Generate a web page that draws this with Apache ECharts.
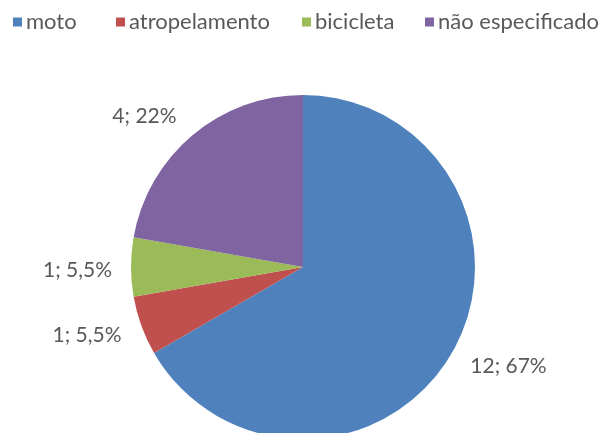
<!DOCTYPE html>
<html>
<head>
<meta charset="utf-8">
<script src="https://cdn.jsdelivr.net/npm/echarts@6/dist/echarts.min.js"></script>
<style>
  html, body { margin: 0; padding: 0; background: #ffffff; }
  #chart { width: 603px; height: 433px; }
</style>
</head>
<body>
<div id="chart"></div>
<script>
// Vítimas por tipo de acidente
const categories = ['moto', 'atropelamento', 'bicicleta', 'não especificado'];
const counts = [12, 1, 1, 4];
const percentLabels = ['67%', '5,5%', '5,5%', '22%'];
const colors = ['#4F81BD', '#C0504D', '#9BBB59', '#8064A2'];

// legend entry x positions and small label nudges (dx, dy)
const legendLefts = [13, 116, 302, 425];
const labelNudge = [[-4, 3], [4, 3], [6, 3], [2, -4]];

const chart = echarts.init(document.getElementById('chart'), null, { renderer: 'canvas' });

const data = categories.map((name, i) => ({
  name: name,
  value: counts[i],
  pct: percentLabels[i],
  itemStyle: { color: colors[i] }
}));

const legends = categories.map((name, i) => ({
  top: 11,
  left: legendLefts[i],
  padding: 0,
  icon: 'rect',
  itemWidth: 9,
  itemHeight: 9,
  textStyle: {
    color: '#595959', fontSize: 22, fontFamily: 'Lato',
    lineHeight: 22, padding: [0, 0, 0, -1]
  },
  data: [name]
}));

chart.setOption({
  animation: false,
  backgroundColor: '#ffffff',
  legend: legends,
  series: [{
    type: 'pie',
    center: [303, 267],
    radius: 172,
    startAngle: 90,
    clockwise: true,
    avoidLabelOverlap: false,
    label: {
      show: true,
      position: 'outside',
      color: '#595959',
      fontSize: 21,
      fontFamily: 'Lato',
      formatter: p => p.value + '; ' + p.data.pct
    },
    labelLine: { show: false, length: 20, length2: 0 },
    labelLayout: p => ({ dx: labelNudge[p.dataIndex][0], dy: labelNudge[p.dataIndex][1] }),
    data: data
  }]
});
</script>
</body>
</html>
